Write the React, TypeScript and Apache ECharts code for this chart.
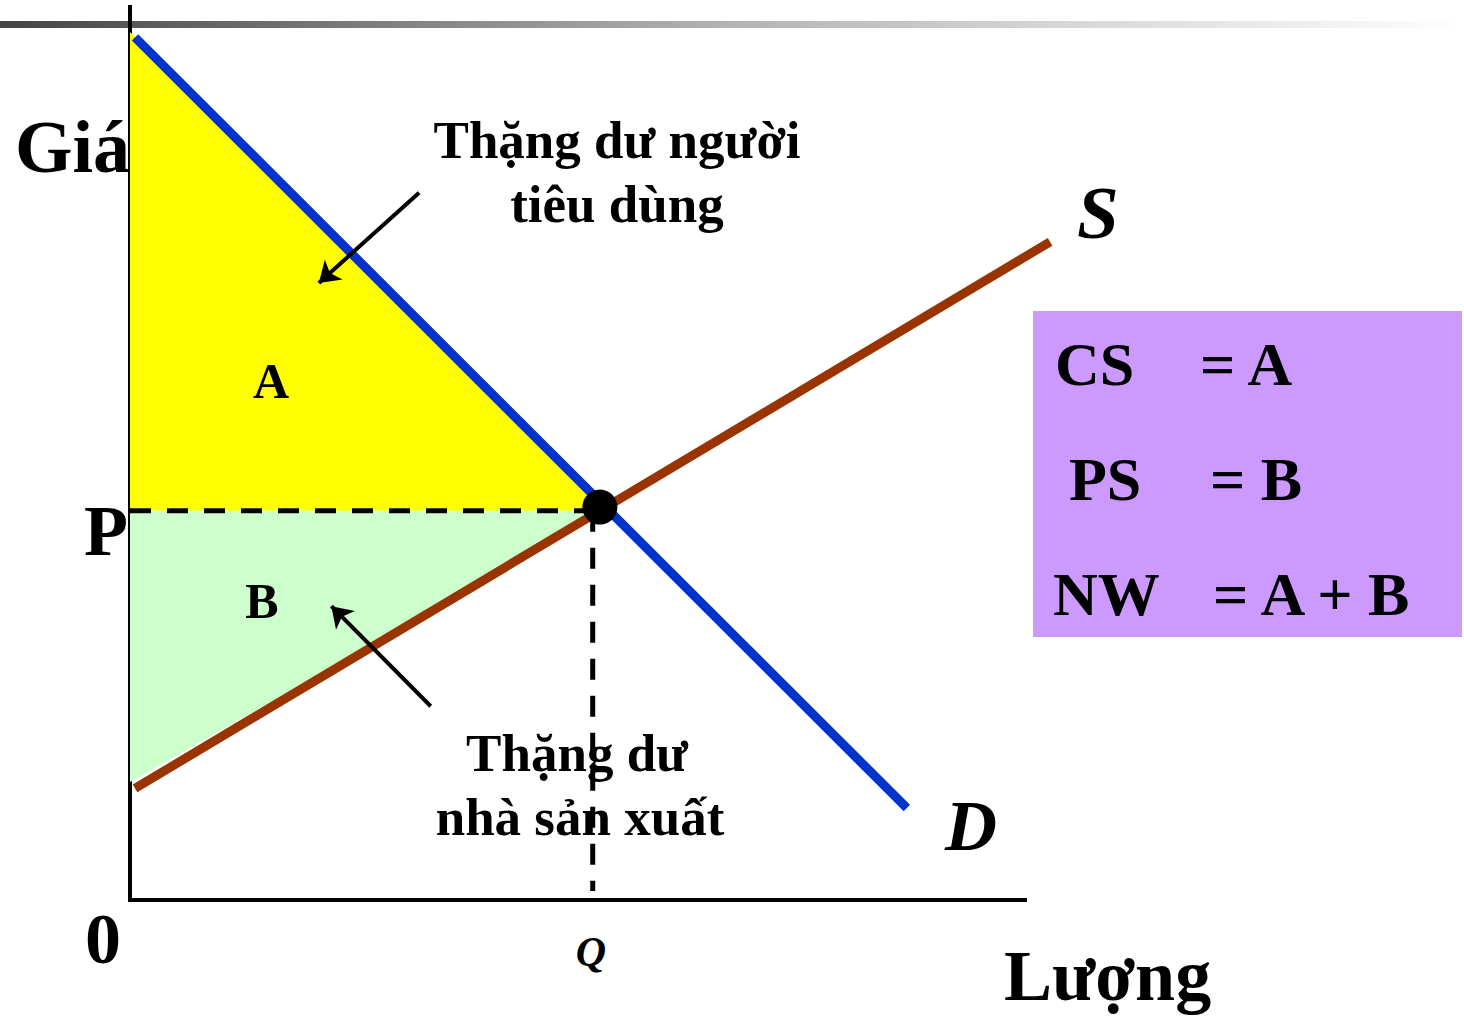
import React, { useEffect, useRef } from "react";
import * as echarts from "echarts";

// ---- data (price / quantity units on the chart's own axes) ----
const demandQ = [0.56, 86.8];
const demandP = [96.6, 10.3];
const supplyQ = [0.56, 102.8];
const supplyP = [12.5, 73.7];
const equilibrium = [52.5, 44.0];
const priceLevel = 43.6;
const quantityLevel = 51.7;
const quantityAxisEnd = 100;
const csArea = [[0, 97.2], [53.2, 43.6], [0, 43.6]];
const psArea = [[0, 43.6], [53.2, 43.6], [0, 13.2]];
const csArrow = [[32.3, 79.2], [21.1, 69.1]];
const psArrow = [[33.6, 21.7], [22.5, 32.9]];
const summaryNames = ["CS", "PS", "NW"];
const summaryValues = ["= A", "= B", "= A + B"];
const axisLabels = ["0", "P", "Q"];
const axisTitles = ["Giá", "Lượng"];
const curveNames = ["S", "D"];
const areaNames = ["A", "B"];
const csNote = ["Thặng dư người", "tiêu dùng"];
const psNote = ["Thặng dư", "nhà sản xuất"];

const FONT = '"Liberation Serif", "Times New Roman", serif';

function txt(text: string, x: number, y: number, size: number, align: string, italic = false) {
  return {
    type: "text",
    z: 100,
    style: {
      text,
      x,
      y,
      fill: "#000",
      fontSize: size,
      fontFamily: FONT,
      fontWeight: "bold",
      fontStyle: italic ? "italic" : "normal",
      textAlign: align,
      textVerticalAlign: "middle",
      align,
      verticalAlign: "middle",
    },
  };
}

function polygonSeries(area: number[][], color: string, z: number) {
  return {
    type: "custom",
    z,
    silent: true,
    data: [[0, 0]],
    renderItem: (_params: any, api: any) => ({
      type: "polygon",
      shape: { points: area.map((p) => api.coord(p)) },
      style: { fill: color },
    }),
  };
}

export default function App() {
  const ref = useRef<HTMLDivElement>(null);
  useEffect(() => {
    if (!ref.current) return;
    const chart = echarts.init(ref.current, undefined, { renderer: "svg" });
    const option: any = {
      animation: false,
      backgroundColor: "#fff",
      // x: 0..105 over 130..1069.75 (8.95 px/unit), y: 0..100 over 900..7
      grid: { left: 130, right: 394.25, top: 7, bottom: 118 },
      xAxis: {
        type: "value",
        min: 0,
        max: 105,
        axisLine: { show: false },
        axisTick: { show: false },
        axisLabel: { show: false },
        splitLine: { show: false },
      },
      yAxis: {
        type: "value",
        min: 0,
        max: 100,
        axisLine: { show: true, onZero: false, lineStyle: { color: "#000", width: 4, cap: "square" } },
        axisTick: { show: false },
        axisLabel: { show: false },
        splitLine: { show: false },
      },
      series: [
        polygonSeries(csArea, "#FFFF00", 1),
        polygonSeries(psArea, "#CCFFCC", 1),
        {
          type: "line",
          z: 6,
          symbol: "none",
          clip: false,
          data: [[0, 0], [quantityAxisEnd, 0]],
          lineStyle: { color: "#000", width: 4, cap: "square" },
        },
        {
          type: "line",
          z: 2,
          symbol: "none",
          data: [[0, priceLevel], [equilibrium[0], priceLevel]],
          lineStyle: { color: "#000", width: 5, type: [21, 16] },
        },
        {
          type: "line",
          z: 2,
          symbol: "none",
          data: [[quantityLevel, priceLevel], [quantityLevel, 1.0]],
          lineStyle: { color: "#000", width: 5, type: [21, 16] },
        },
        {
          type: "line",
          z: 3,
          symbol: "none",
          clip: false,
          data: demandQ.map((q, i) => [q, demandP[i]]),
          lineStyle: { color: "#0033CC", width: 9 },
        },
        {
          type: "line",
          z: 3,
          symbol: "none",
          clip: false,
          data: supplyQ.map((q, i) => [q, supplyP[i]]),
          lineStyle: { color: "#993300", width: 9 },
        },
        {
          type: "scatter",
          z: 4,
          symbol: "circle",
          symbolSize: 35,
          data: [equilibrium],
          itemStyle: { color: "#000", opacity: 1 },
        },
        {
          type: "lines",
          coordinateSystem: "cartesian2d",
          z: 5,
          symbol: ["none", "arrow"],
          symbolSize: 20,
          data: [{ coords: csArrow }, { coords: psArrow }],
          lineStyle: { color: "#000", width: 4, opacity: 1 },
        },
      ],
      graphic: [
        {
          type: "rect",
          z: -10,
          shape: { x: 0, y: 21, width: 1464, height: 7 },
          style: {
            fill: new echarts.graphic.LinearGradient(0, 0, 1, 0, [
              { offset: 0, color: "#444444" },
              { offset: 0.5, color: "#b4b4b4" },
              { offset: 1, color: "#ffffff" },
            ]),
          },
        },
        {
          type: "rect",
          z: 50,
          shape: { x: 1033, y: 311, width: 429, height: 326 },
          style: { fill: "#CC99FF" },
        },
        txt(axisTitles[0], 15, 147, 74, "left"),
        txt(axisTitles[1], 1004, 976, 72, "left"),
        txt(axisLabels[0], 103, 939, 72, "center"),
        txt(axisLabels[1], 106, 531, 72, "center"),
        txt(axisLabels[2], 591, 952, 42, "center", true),
        txt(curveNames[0], 1077, 212, 75, "left", true),
        txt(curveNames[1], 945, 826, 72, "left", true),
        txt(areaNames[0], 271, 381, 50, "center"),
        txt(areaNames[1], 262, 601, 50, "center"),
        txt(csNote[0], 617, 140, 53, "center"),
        txt(csNote[1], 617, 204, 53, "center"),
        txt(psNote[0], 577, 753, 53, "center"),
        txt(psNote[1], 580, 817, 53, "center"),
        txt(summaryNames[0], 1055, 364, 62, "left"),
        txt(summaryValues[0], 1200, 364, 62, "left"),
        txt(summaryNames[1], 1069, 479, 62, "left"),
        txt(summaryValues[1], 1210, 479, 62, "left"),
        txt(summaryNames[2], 1053, 594, 62, "left"),
        txt(summaryValues[2], 1213, 594, 62, "left"),
      ],
    };
    chart.setOption(option);
    return () => chart.dispose();
  }, []);
  return (
    <div
      ref={ref}
      style={{ position: "absolute", left: 0, top: 0, width: 1464, height: 1018, background: "#fff" }}
    />
  );
}
